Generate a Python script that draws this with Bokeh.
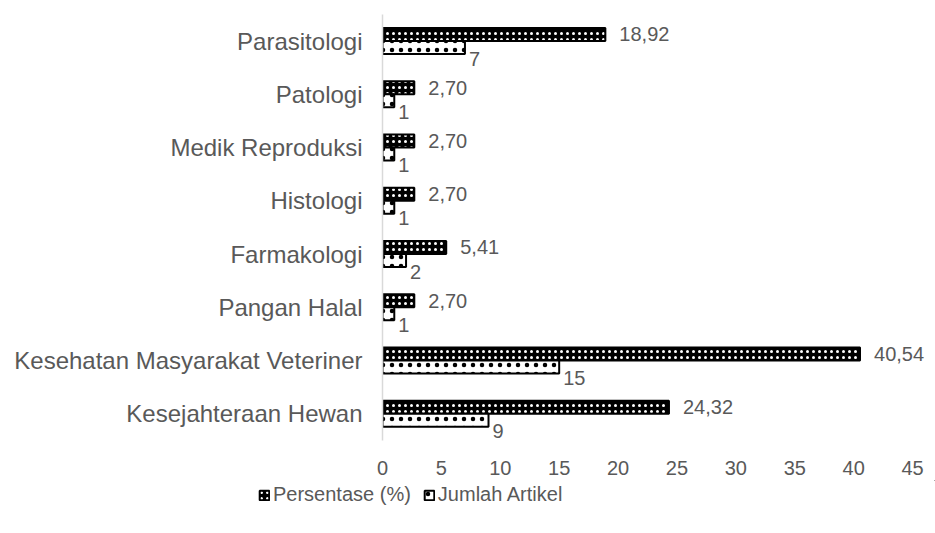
from bokeh.plotting import figure
from bokeh.models import ColumnDataSource, FactorRange, Legend, LegendItem, FixedTicker
from bokeh.layouts import column
from bokeh.transform import dodge
from bokeh.core.properties import value
from bokeh.embed import file_html
from bokeh.resources import INLINE

categories = ["Parasitologi", "Patologi", "Medik Reproduksi", "Histologi",
              "Farmakologi", "Pangan Halal", "Kesehatan Masyarakat Veteriner",
              "Kesejahteraan Hewan"]
persentase = [18.92, 2.70, 2.70, 2.70, 5.41, 2.70, 40.54, 24.32]
jumlah = [7, 1, 1, 1, 2, 1, 15, 9]
x_ticks = [0, 5, 10, 15, 20, 25, 30, 35, 40, 45]
series_names = ["Persentase (%)", "Jumlah Artikel"]

FONT = "Liberation Sans"
GREY = "#595959"

PCT_STYLE = dict(fill_color="black", line_color="black", line_width=2,
                 hatch_pattern="dot", hatch_color="white", hatch_scale=6, hatch_weight=3)
CNT_STYLE = dict(fill_color="white", line_color="black", line_width=2,
                 hatch_pattern="dot", hatch_color="black", hatch_scale=9, hatch_weight=1.5)

src = ColumnDataSource(dict(
    cat=categories,
    pct=persentase,
    cnt=jumlah,
    pct_lbl=[f"{v:.2f}".replace(".", ",") for v in persentase],
    cnt_lbl=[str(v) for v in jumlah],
))

p = figure(width=935, height=480, output_backend="svg", toolbar_location=None,
           y_range=FactorRange(*list(reversed(categories))),
           x_range=(0, 46.27),
           min_border_left=382, min_border_right=8, min_border_top=14, min_border_bottom=40)
p.frame_align = False
p.outline_line_color = None
p.xgrid.grid_line_color = None
p.ygrid.grid_line_color = None
p.y_range.range_padding = 0

p.hbar(y=dodge("cat", 0.125, range=p.y_range), right="pct", left=0, height=0.245,
       source=src, **PCT_STYLE)
p.hbar(y=dodge("cat", -0.12, range=p.y_range), right="cnt", left=0, height=0.245,
       source=src, **CNT_STYLE)

p.text(x="pct", y=dodge("cat", 0.125, range=p.y_range), text="pct_lbl", source=src,
       x_offset=14, text_baseline="middle", text_align="left",
       text_font=value(FONT), text_font_size="20px", text_color=GREY)
p.text(x="cnt", y=dodge("cat", -0.12, range=p.y_range), text="cnt_lbl", source=src,
       x_offset=4, y_offset=11, text_baseline="middle", text_align="left",
       text_font=value(FONT), text_font_size="20px", text_color=GREY)

ya = p.yaxis[0]
ya.axis_line_color = "#d9d9d9"
ya.axis_line_width = 1.5
ya.major_tick_line_color = None
ya.minor_tick_line_color = None
ya.major_label_standoff = 14
ya.major_label_text_font = FONT
ya.major_label_text_font_size = "24px"
ya.major_label_text_color = GREY

xa = p.xaxis[0]
xa.ticker = FixedTicker(ticks=x_ticks)
xa.axis_line_color = None
xa.major_tick_line_color = None
xa.minor_tick_line_color = None
xa.major_label_standoff = 14
xa.major_label_text_font = FONT
xa.major_label_text_font_size = "20px"
xa.major_label_text_color = GREY

# legend panel
lp = figure(width=935, height=53, output_backend="svg", toolbar_location=None,
            x_range=(0, 1), y_range=(0, 1), min_border=0)
lp.frame_align = False
lp.axis.visible = False
lp.grid.visible = False
lp.outline_line_color = None
offscreen = ColumnDataSource(dict(y=[5], right=[5]))
l1 = lp.hbar(y="y", right="right", left=4, height=0.1, source=offscreen, **PCT_STYLE)
l2 = lp.hbar(y="y", right="right", left=4, height=0.1, source=offscreen, **CNT_STYLE)
legend = Legend(items=[LegendItem(label=series_names[0], renderers=[l1]),
                       LegendItem(label=series_names[1], renderers=[l2])],
                orientation="horizontal", location=(258, 27),
                label_text_font=FONT, label_text_font_size="20px", label_text_color=GREY,
                glyph_width=12, glyph_height=12, label_standoff=3, spacing=12,
                label_height=22, background_fill_alpha=0, border_line_color=None,
                padding=2, margin=0)
lp.add_layout(legend, "center")

layout = column(p, lp, spacing=0)
open("out.html", "w").write(file_html(layout, INLINE))
